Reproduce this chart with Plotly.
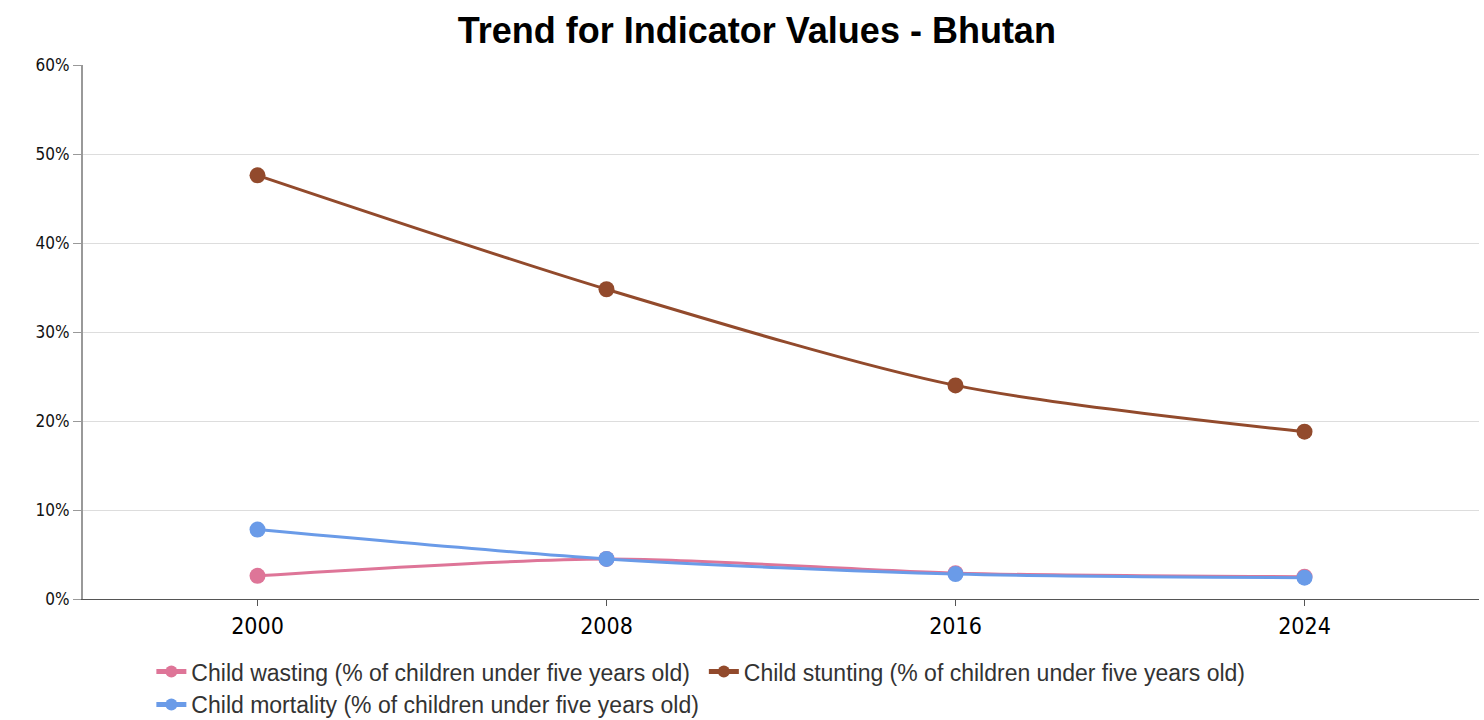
import plotly.graph_objects as go

years = [2000, 2008, 2016, 2024]
wasting = [2.6, 4.5, 2.9, 2.5]
stunting = [47.6, 34.8, 24.0, 18.8]
mortality = [7.8, 4.5, 2.8, 2.4]

names = [
    "Child wasting (% of children under five years old)",
    "Child stunting (% of children under five years old)",
    "Child mortality (% of children under five years old)",
]
series = [wasting, stunting, mortality]
colors = ["#DE7598", "#924A2C", "#6A9BE8"]
y_ticks = [0, 10, 20, 30, 40, 50, 60]
y_tick_text = [f"{v}%" for v in y_ticks]

fig = go.Figure()
for name, vals, col in zip(names, series, colors):
    fig.add_trace(go.Scatter(
        x=years, y=vals, name=name, mode="lines+markers",
        line=dict(color=col, width=3, shape="spline", smoothing=0.8),
        marker=dict(color=col, size=16),
    ))

fig.update_layout(
    width=1484, height=720,
    paper_bgcolor="white", plot_bgcolor="white",
    margin=dict(l=83, r=5, t=65, b=121, autoexpand=False),
    title=dict(text="<b>Trend for Indicator Values - Bhutan</b>", x=0.51, xanchor="center",
               xref="container", y=0.958, yanchor="middle",
               font=dict(family="Liberation Sans, Arial", size=36, color="black")),
    xaxis=dict(range=[1996, 2028], tickvals=years, ticktext=[str(y) for y in years],
               showgrid=False, showline=True, linecolor="#555", linewidth=1,
               ticks="outside", ticklen=6, tickcolor="#555",
               tickfont=dict(family="DejaVu Sans Condensed, DejaVu Sans", size=23, color="black"),
               zeroline=False),
    yaxis=dict(range=[0, 60], tickvals=y_ticks, ticktext=y_tick_text,
               showgrid=True, gridcolor="#dddddd", gridwidth=1,
               showline=True, linecolor="#999", linewidth=2,
               ticks="outside", ticklen=8, tickcolor="#999",
               tickfont=dict(family="DejaVu Sans Condensed, DejaVu Sans", size=17, color="#111"),
               zeroline=False),
    legend=dict(orientation="h", x=0.102, xanchor="left", xref="container",
                y=0.097, yanchor="top", yref="container",
                font=dict(family="Liberation Sans, Arial", size=23, color="#333"),
                itemsizing="constant", itemwidth=30, tracegroupgap=0),
    showlegend=True,
)

fig.write_html("out.html", config={"displayModeBar": False},
               post_script="document.body.style.margin='0';document.body.style.overflow='hidden';")
